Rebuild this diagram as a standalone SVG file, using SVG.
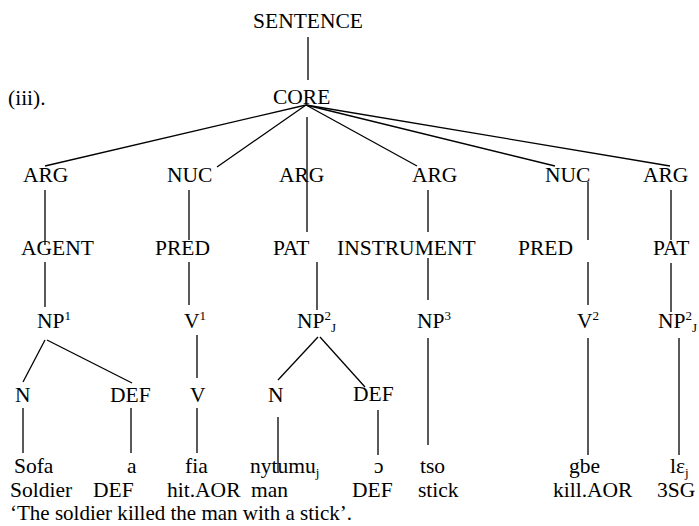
<svg xmlns="http://www.w3.org/2000/svg" width="699" height="526" viewBox="0 0 699 526">
<style>
text{font-family:"Liberation Serif","Times New Roman",serif;font-size:21.5px;fill:#000}
.sup{font-size:13px}
.edge line{stroke:#000;stroke-width:1.3}
</style>
<rect width="699" height="526" fill="#fff"/>
<g class="edge" id="connectors">
<line x1="308" y1="37" x2="308" y2="80"/>
<line x1="306" y1="105" x2="45" y2="166"/>
<line x1="306" y1="105" x2="217" y2="167"/>
<line x1="307" y1="117" x2="307" y2="232"/>
<line x1="306" y1="105" x2="417" y2="166"/>
<line x1="306" y1="105" x2="555" y2="166"/>
<line x1="306" y1="105" x2="670" y2="166"/>
<line x1="45" y1="190" x2="45" y2="245"/>
<line x1="45" y1="262" x2="45" y2="307"/>
<line x1="189" y1="190" x2="189" y2="240"/>
<line x1="189" y1="262" x2="189" y2="305"/>
<line x1="317" y1="262" x2="317" y2="310"/>
<line x1="428" y1="190" x2="428" y2="232"/>
<line x1="428" y1="258" x2="428" y2="300"/>
<line x1="428" y1="338" x2="428" y2="445"/>
<line x1="588" y1="182" x2="588" y2="240"/>
<line x1="588" y1="262" x2="588" y2="305"/>
<line x1="588" y1="338" x2="588" y2="455"/>
<line x1="671" y1="190" x2="671" y2="240"/>
<line x1="671" y1="263" x2="671" y2="312"/>
<line x1="679" y1="338" x2="679" y2="455"/>
<line x1="45" y1="340" x2="23" y2="382"/>
<line x1="47" y1="340" x2="132" y2="383"/>
<line x1="197" y1="335" x2="197" y2="378"/>
<line x1="318" y1="337" x2="278" y2="380"/>
<line x1="320" y1="337" x2="365" y2="387"/>
<line x1="23" y1="408" x2="23" y2="453"/>
<line x1="131" y1="408" x2="131" y2="453"/>
<line x1="197" y1="408" x2="197" y2="453"/>
<line x1="278" y1="417" x2="278" y2="473"/>
<line x1="378" y1="410" x2="378" y2="455"/>
</g>
<text id="label-iii" x="8" y="105">(iii).</text>
<g id="sentence"><text x="308" y="28" text-anchor="middle">SENTENCE</text></g>
<g id="core"><text x="273" y="104">CORE</text></g>
<g id="arg1"><text x="23" y="182">ARG</text></g>
<g id="nuc1"><text x="167" y="182">NUC</text></g>
<g id="arg2"><text x="279" y="182">ARG</text></g>
<g id="arg3"><text x="412" y="182">ARG</text></g>
<g id="nuc2"><text x="545" y="182">NUC</text></g>
<g id="arg4"><text x="643" y="182">ARG</text></g>
<g id="agent"><text x="21" y="255">AGENT</text></g>
<g id="pred1"><text x="155" y="255">PRED</text></g>
<g id="pat1"><text x="273" y="255">PAT</text></g>
<g id="instrument"><text x="337" y="255">INSTRUMENT</text></g>
<g id="pred2"><text x="518" y="255">PRED</text></g>
<g id="pat2"><text x="653" y="255">PAT</text></g>
<g id="np1"><text x="37" y="328">NP<tspan class="sup" dy="-8">1</tspan></text></g>
<g id="v1"><text x="184" y="328">V<tspan class="sup" dy="-8">1</tspan></text></g>
<g id="np2a"><text x="297" y="328">NP<tspan class="sup" dy="-8">2</tspan><tspan class="sup" dy="12">J</tspan></text></g>
<g id="np3"><text x="417" y="328">NP<tspan class="sup" dy="-8">3</tspan></text></g>
<g id="v2"><text x="577" y="328">V<tspan class="sup" dy="-8">2</tspan></text></g>
<g id="np2b"><text x="658" y="328">NP<tspan class="sup" dy="-8">2</tspan><tspan class="sup" dy="12">J</tspan></text></g>
<g id="n1"><text x="15" y="402">N</text></g>
<g id="def1"><text x="110" y="402">DEF</text></g>
<g id="v"><text x="190" y="402">V</text></g>
<g id="n2"><text x="268" y="402">N</text></g>
<g id="def2"><text x="353" y="401">DEF</text></g>
<g id="words">
<text x="14" y="473">Sofa</text>
<text x="127" y="473">a</text>
<text x="185" y="473">fia</text>
<text x="250" y="473">nytumu<tspan class="sup" dy="4">j</tspan></text>
<text x="374" y="473">ɔ</text>
<text x="420" y="473">tso</text>
<text x="569" y="473">gbe</text>
<text x="670" y="473">lɛ<tspan class="sup" dy="4">j</tspan></text>
</g>
<g id="glosses">
<text x="10" y="497">Soldier</text>
<text x="93" y="497">DEF</text>
<text x="167" y="497">hit.AOR</text>
<text x="251" y="497">man</text>
<text x="352" y="497">DEF</text>
<text x="418" y="497">stick</text>
<text x="553" y="497">kill.AOR</text>
<text x="657" y="497">3SG</text>
</g>
<text id="translation" x="10" y="520" textLength="342" lengthAdjust="spacingAndGlyphs">‘The soldier killed the man with a stick’.</text>
</svg>
